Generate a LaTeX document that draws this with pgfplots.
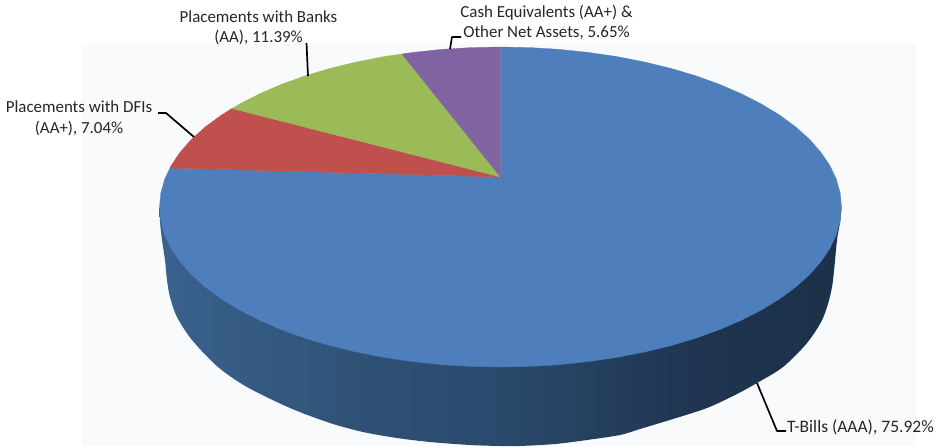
\documentclass[border=0pt]{standalone}
\usepackage{pgfplots}
\pgfplotsset{compat=1.18}
\usepackage{fontspec}
\setmainfont{Carlito}

\definecolor{panelbg}{HTML}{F8FAFC}
\definecolor{tbills}{HTML}{4E7FBC}
\definecolor{dfis}{HTML}{C0504D}
\definecolor{banks}{HTML}{9BBB59}
\definecolor{cash}{HTML}{8064A2}

% Rim of the T-Bills slice, lit from the left and falling into shade on the right
\pgfdeclarehorizontalshading{rimshade}{100bp}{
  rgb(0bp)=(.275,.459,.667);
  rgb(3bp)=(.275,.459,.667);
  rgb(10bp)=(.263,.439,.639);
  rgb(22bp)=(.235,.396,.576);
  rgb(40bp)=(.184,.318,.459);
  rgb(50bp)=(.165,.290,.424);
  rgb(64bp)=(.122,.208,.314);
  rgb(76bp)=(.110,.188,.286);
  rgb(100bp)=(.110,.188,.286)
}

\tikzset{lbl/.style={inner sep=0pt, text=black!85, font=\fontsize{16.9}{20.5}\selectfont}}

\begin{document}
\begin{tikzpicture}
\begin{axis}[
  hide axis, scale only axis, width=940pt, height=446pt,
  xmin=0, xmax=940, ymin=0, ymax=446, y dir=reverse,
  clip=false,
  every axis plot/.append style={draw=none, mark=none, line join=round},
]
% page and plot area
\addplot[fill=white] coordinates {(0,0) (940,0) (940,446) (0,446)} -- cycle;
\addplot[fill=panelbg] coordinates {(82,44) (916,44) (916,446) (82,446)} -- cycle;

% rim below the top face
\addplot[shading=rimshade, smooth, tension=0.5] coordinates {
  (159.5,207) (160,222) (162,240) (165,260) (167,280) (170,297) (177,317) (192,340)
  (218,367) (247,387) (290,408) (330,423) (363,432) (397,438) (430,442) (470,445)
  (500,446) (520,446) (555,444) (587,440) (620,435) (640,429) (673,419) (707,408)
  (735,395) (757,383) (783,367) (807,343) (823,318) (832,287) (837,240) (840,223) (841.5,207)
} -- cycle;

% T-Bills (AAA), 75.92
\addplot[fill=tbills, draw=tbills, line width=0.3pt] coordinates {
  (500.5,177) (500.5,47) (530.2,47.6) (559.7,49.4) (588.8,52.5) (617.1,56.6) (644.6,62)
  (671,68.4) (696.1,75.9) (719.7,84.4) (741.6,93.9) (761.7,104.2) (779.8,115.2)
  (795.8,127) (809.6,139.4) (820.9,152.3) (829.9,165.6) (836.3,179.2) (840.2,193.1)
  (841.5,207) (840.2,220.9) (836.3,234.8) (829.9,248.4) (820.9,261.7) (809.6,274.6)
  (795.8,287) (779.8,298.8) (761.7,309.8) (741.6,320.1) (719.7,329.6) (696.1,338.1)
  (671,345.6) (644.6,352) (617.1,357.4) (588.8,361.5) (559.7,364.6) (530.2,366.4)
  (500.5,367) (470.8,366.4) (441.3,364.6) (412.2,361.5) (383.9,357.4) (356.4,352)
  (330,345.6) (304.9,338.1) (281.3,329.6) (259.4,320.1) (239.3,309.8) (221.2,298.8)
  (205.2,287) (191.4,274.6) (180.1,261.7) (171.1,248.4) (164.7,234.8) (160.8,220.9)
  (159.5,207) (160.8,193.1) (164.7,179.2) (170,168)
} -- cycle;

% Placements with DFIs (AA+), 7.04
\addplot[fill=dfis, draw=dfis, line width=0.3pt] coordinates {
  (500.5,177) (170,168) (171.1,165.6) (180.1,152.3) (191.4,139.4) (205.2,127)
  (221.2,115.2) (232,108.5)
} -- cycle;

% Placements with Banks (AA), 11.39
\addplot[fill=banks, draw=banks, line width=0.3pt] coordinates {
  (500.5,177) (232,108.5) (239.3,104.2) (259.4,93.9) (281.3,84.4) (304.9,75.9)
  (330,68.4) (356.4,62) (383.9,56.6) (402,54)
} -- cycle;

% Cash Equivalents (AA+) & Other Net Assets, 5.65
\addplot[fill=cash, draw=cash, line width=0.3pt] coordinates {
  (500.5,177) (402,54) (412.2,52.5) (441.3,49.4) (470.8,47.6) (500.5,47)
} -- cycle;

% leader lines
\addplot[draw=black, line width=1.7pt] coordinates {(158,113) (166,113) (194,137)};
\addplot[draw=black, line width=1.7pt] coordinates {(306.5,43) (308,76)};
\addplot[draw=black, line width=1.7pt] coordinates {(461,37) (452,37) (450,49)};
\addplot[draw=black, line width=1.7pt] coordinates {(786,431) (777,431) (757,383)};

% slice labels
\node[lbl, align=center] at (axis cs:79,118.5)
  {Placements with DFIs\\(AA+), 7.04\%};
\node[lbl, align=center] at (axis cs:258.5,28)
  {Placements with Banks\\(AA), 11.39\%};
\node[lbl, align=center] at (axis cs:546.5,22.5)
  {Cash Equivalents (AA+) \&\\Other Net Assets, 5.65\%};
\node[lbl, anchor=west, font=\fontsize{17.5}{20.5}\selectfont] at (axis cs:787,427)
  {T-Bills (AAA), 75.92\%};
\end{axis}
\end{tikzpicture}
\end{document}
